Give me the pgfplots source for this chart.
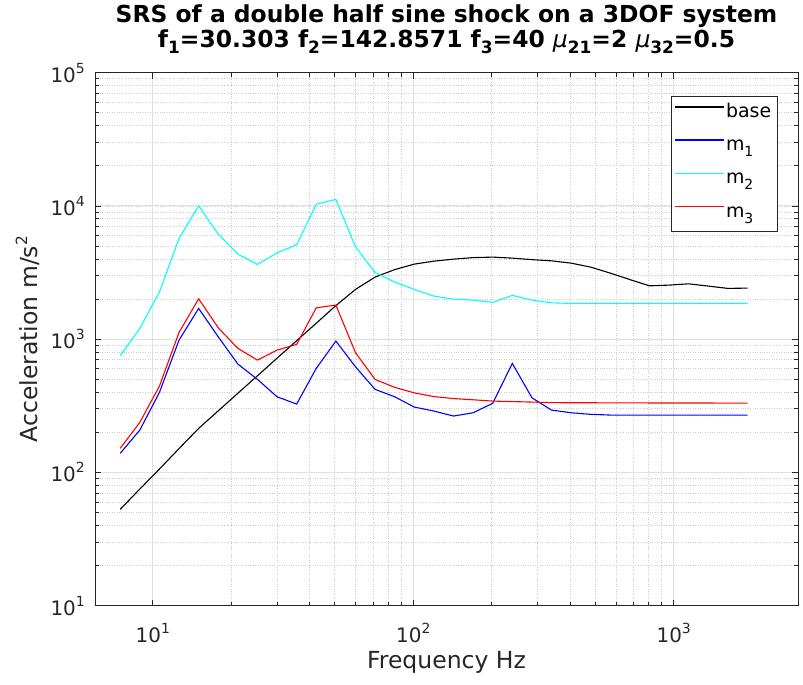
\documentclass[border=0pt]{standalone}
\usepackage{fontspec}
\setmainfont{DejaVu Sans}
\usepackage{pgfplots}
\usepackage{pgfplotstable}
\pgfplotsset{compat=1.18}
\definecolor{axgray}{RGB}{38,38,38}
\definecolor{majgrid}{RGB}{225,225,225}
\definecolor{mingrid}{RGB}{205,205,205}
\definecolor{cblack}{RGB}{0,0,0}
\definecolor{cblue}{RGB}{0,0,255}
\definecolor{ccyan}{RGB}{0,255,255}
\definecolor{cred}{RGB}{255,0,0}
\newcommand{\tsub}[1]{\raisebox{-6bp}{\fontsize{17}{17}\selectfont #1}}
\newcommand{\tsup}[1]{\raisebox{9bp}{\fontsize{14}{14}\selectfont #1}}
\newcommand{\lsup}[1]{\raisebox{10bp}{\fontsize{15.5}{15.5}\selectfont #1}}
\newcommand{\lsub}[1]{\raisebox{-6bp}{\fontsize{14}{14}\selectfont #1}}
\newcommand{\legline}[1]{\addlegendimage{legend image code/.code={\node[inner sep=0pt, text height=0.7bp, text depth=0.7bp, anchor=west] at (0bp,7bp) {\textcolor{#1}{\rule[-0.7bp]{49bp}{1.4bp}}};}}}
\pgfplotstableread{
f base m1 m2 m3
7.5 52.9 139.1 751 151.7
8.919 75.1 208 1205 237.6
10.607 106.1 399 2268 444.8
12.613 151.1 984 5705 1124.6
15 214.2 1702 10018 2010
17.838 289.9 1042 6142 1218
21.213 392.8 650.6 4349 853
25.227 531.6 499.4 3640 697
30 720.2 369.8 4448 828
35.676 974.3 326 5107 914
42.426 1318 603.9 10316 1720
50.454 1787 967.6 11188 1803
60 2363 620.9 4934 793
71.352 2924 420.2 3170 499
84.853 3327 369.8 2681 435
100.91 3660 309.5 2363 395.6
120 3853 288.8 2105 371
142.70 3989 265 1999 358.4
169.71 4095 280.5 1965 351
201.82 4130 329.9 1888 343.2
240 4059 658.5 2131 340.3
285.41 3955 363.4 1965 337.4
339.41 3873 293.8 1875 334
403.63 3723 280.5 1856 333.5
480 3474 272.9 1856 333.3
570.82 3132 269.6 1856 333
678.82 2800 269.6 1856 332.6
807.25 2515 269.6 1856 332.3
960 2546 269.6 1856 332
1141.6 2604 269.6 1856 332
1357.6 2503 269.6 1856 331.8
1614.5 2405 269.6 1856 331.6
1920 2418 269.6 1856 331.6
}\data
\begin{document}
\begin{tikzpicture}
\useasboundingbox (0,0) rectangle (803bp,685bp);
\begin{axis}[
  at={(95bp,79.3bp)}, anchor=south west,
  width=703bp, height=533bp, scale only axis,
  xmode=log, ymode=log,
  xmin=6, xmax=3000, ymin=10, ymax=100000,
  xtick={10,100,1000}, xticklabels={10\tsup{1},10\tsup{2},10\tsup{3}},
  ytick={10,100,1000,10000,100000},
  yticklabels={10\tsup{1},10\tsup{2},10\tsup{3},10\tsup{4},10\tsup{5}},
  grid=both,
  major grid style={majgrid, line width=1bp},
  minor grid style={mingrid, dotted, line width=0.8bp},
  axis line style={axgray, line width=1bp},
  tick style={axgray, line width=0.8bp},
  major tick length=6bp, minor tick length=4bp,
  tick align=inside,
  ticklabel style={font=\fontsize{20}{20}\selectfont, text=axgray},
  xticklabel style={anchor=base, yshift=-36.6bp},
  yticklabel style={anchor=east, inner sep=0pt, xshift=-10bp},
  xlabel={Frequency Hz},
  ylabel={Acceleration m/s\lsup{2}},
  label style={font=\fontsize{23.6}{23.6}\selectfont, text=axgray},
  xlabel style={at={(axis description cs:0.5,-0.1169)}, anchor=base},
  ylabel style={at={(axis description cs:-0.0825,0.5)}, anchor=base},
  title={SRS of a double half sine shock on a 3DOF system\\f\tsub{1}=30.303 f\tsub{2}=142.8571 f\tsub{3}=40 {\mdseries\itshape μ}\tsub{21}=2 {\mdseries\itshape μ}\tsub{32}=0.5},
  title style={at={(axis description cs:0.5,1.0369)}, anchor=base, align=center,
    font=\bfseries\fontsize{23.5}{25}\selectfont, text=black},
  legend style={at={(axis description cs:0.9706,0.9563)}, anchor=north east,
    draw=axgray, fill=white,
    font=\fontsize{19}{19}\selectfont,
    inner xsep=4bp, inner ysep=1bp, row sep=0pt,
    nodes={inner xsep=2bp, inner ysep=2bp, text height=18bp, text depth=11.3bp},
    /tikz/every even column/.append style={column sep=2bp}},
  legend cell align=left,
]
\addplot[color=cblack, line width=1.1bp, forget plot] table[x=f, y=base] {\data};
\addplot[color=cblue, line width=1.1bp, forget plot] table[x=f, y=m1] {\data};
\addplot[color=ccyan, line width=1.1bp, forget plot] table[x=f, y=m2] {\data};
\addplot[color=cred, line width=1.1bp, forget plot] table[x=f, y=m3] {\data};
\legline{cblack}
\addlegendentry{base}
\legline{cblue}
\addlegendentry{m\lsub{1}}
\legline{ccyan}
\addlegendentry{m\lsub{2}}
\legline{cred}
\addlegendentry{m\lsub{3}}
\end{axis}
\end{tikzpicture}
\end{document}
